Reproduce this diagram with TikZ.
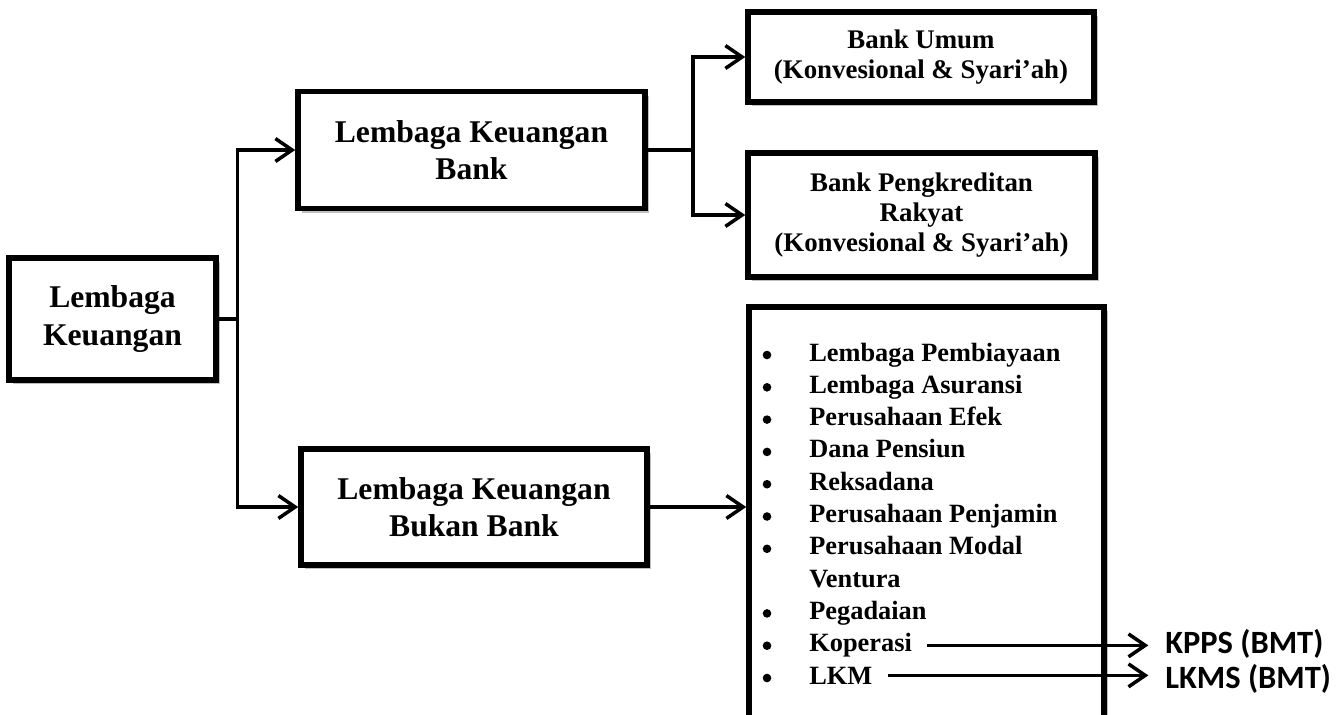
\documentclass[tikz,border=0pt]{standalone}
\usepackage{fontspec}
\setmainfont{Liberation Serif}
\newfontfamily\calibrifont{Carlito}
\usetikzlibrary{shadows,arrows.meta}

\tikzset{
  box/.style={draw, line width=3.2pt, fill=white, align=center, inner sep=0pt,
    drop shadow={shadow xshift=2.4pt, shadow yshift=-2.4pt, fill=black, opacity=0.25}},
  conn/.style={line width=2pt, -{Straight Barb[length=9.5pt,width=13pt,line width=2pt]}},
  bigtext/.style={font=\bfseries\fontsize{18}{21.3}\selectfont},
  midtext/.style={font=\bfseries\fontsize{15.3}{17.3}\selectfont},
  itemtext/.style={font=\bfseries\fontsize{15}{18}\selectfont, inner sep=0pt, anchor=base west},
  sidetext/.style={font=\calibrifont\bfseries\fontsize{18.5}{21}\selectfont, inner sep=0pt, anchor=west}
}

\begin{document}
\begin{tikzpicture}[x=0.02cm, y=-0.02cm]
\path[use as bounding box, clip] (0,0) rectangle (1342,714);

% boxes
\node[box, bigtext, minimum width=4.14cm, minimum height=2.44cm] (lk) at (112.5,319) {Lembaga\\Keuangan};
\node[box, bigtext, minimum width=6.94cm, minimum height=2.34cm] (lkb) at (471.5,150) {Lembaga Keuangan\\Bank};
\node[box, bigtext, minimum width=6.92cm, minimum height=2.32cm] (lkbb) at (474,507) {Lembaga Keuangan\\Bukan Bank};
\node[box, midtext, minimum width=6.92cm, minimum height=1.8cm] (bu) at (921,57) {Bank Umum\\(Konvesional \& Syari'ah)};
\node[box, midtext, minimum width=6.94cm, minimum height=2.48cm] (bpr) at (921.5,215) {Bank Pengkreditan\\Rakyat\\(Konvesional \& Syari'ah)};
\node[box, minimum width=7.1cm, minimum height=8.66cm] (list) at (926.5,523.5) {};

% list items
\foreach \txt [count=\i from 0] in {Lembaga Pembiayaan, Lembaga Asuransi, Perusahaan Efek,
    Dana Pensiun, Reksadana, Perusahaan Penjamin, Perusahaan Modal, Ventura,
    Pegadaian, Koperasi, LKM}
  \node[itemtext] (item\i) at (809, 361+32.3*\i) {\txt};
\foreach \i in {0,1,2,3,4,5,6,8,9,10}
  \fill (767, 355+32.3*\i) circle (4.3);

\node[sidetext] (kpps) at (1165,644) {KPPS (BMT)};
\node[sidetext] (lkms) at (1165,679) {LKMS (BMT)};

% connectors
\coordinate (forkA) at (237.5,0);
\coordinate (forkB) at (693,0);
\draw[conn] (lk.east) -| (forkA |- lkb.west) -- (lkb.west);
\draw[conn] (lk.east) -| (forkA |- lkbb.west) -- (lkbb.west);
\draw[conn] (lkb.east) -| (forkB |- bu.west) -- (bu.west);
\draw[conn] (lkb.east) -| (forkB |- bpr.west) -- (bpr.west);
\draw[conn] (lkbb.east) -- (lkbb.east -| list.west);
\draw[conn, shorten <=8.5pt, shorten >=9.5pt] (item9.east) -- (item9.east -| kpps.west);
\draw[conn, shorten <=8.5pt, shorten >=9.5pt] (item10.east) -- (item10.east -| lkms.west);
\end{tikzpicture}
\end{document}
